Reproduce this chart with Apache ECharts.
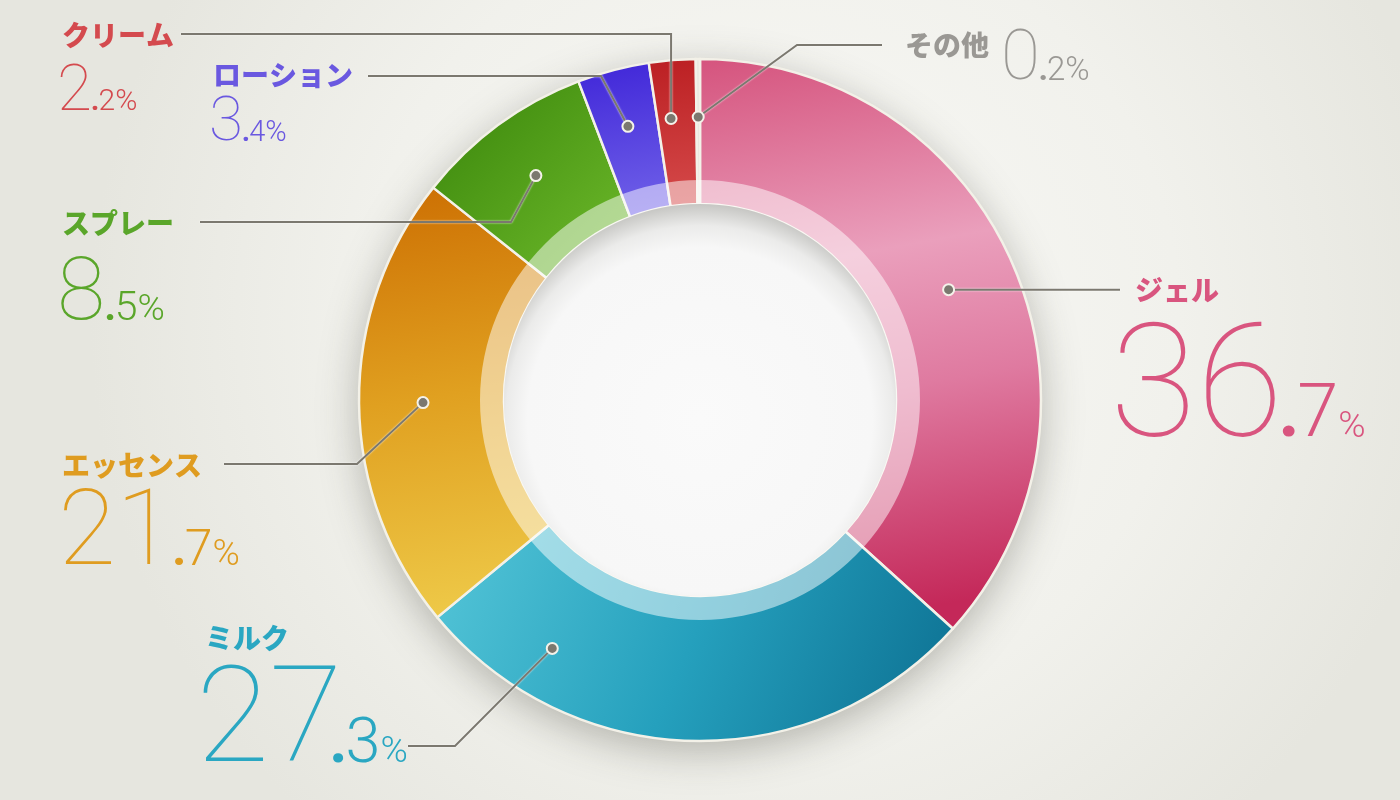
<!DOCTYPE html>
<html>
<head>
<meta charset="utf-8">
<script src="https://cdn.jsdelivr.net/npm/echarts@6/dist/echarts.min.js"></script>
<style>html,body{margin:0;padding:0;overflow:hidden;background:#f2f2ee}#c{width:1400px;height:800px}</style>
</head>
<body>
<div id="c"></div>
<script>
// ---- data ----
const categories = ['ジェル', 'ミルク', 'エッセンス', 'スプレー', 'ローション', 'クリーム', 'その他'];
const values = [36.7, 27.3, 21.7, 8.5, 3.4, 2.2, 0.2];

// ---- styles ----
const nameColors = ['#d9557f', '#2aa7c2', '#df9c20', '#5aa62a', '#6a58e0', '#d44a4e', '#9a9894'];
const sliceGradients = [
  [0, 0, 0.3, 1, ['#d5537d', '#ea9fbc', '#df7aa0', '#c42859'], [0, 0.38, 0.62, 1]],
  [0, 0, 1, 1, ['#55c6d8', '#25a0bd', '#0c6f91'], [0, 0.5, 1]],
  [0, 0, 0.4, 1, ['#cc6e02', '#e0a020', '#eec948'], [0, 0.5, 1]],
  [0, 0, 1, 1, ['#38840a', '#70bc2c'], [0, 1]],
  [0, 0, 0.3, 1, ['#3f25d8', '#6f60e8'], [0, 1]],
  [0, 0, 0.3, 1, ['#bb1f22', '#d54a4a'], [0, 1]],
  [0, 0, 0, 1, ['#ebe9e2', '#e2e0d8'], [0, 1]]
];
const lineColor = '#7b786f';
const numFont = 'Roboto';

// ---- layout (label placement, not data) ----
const CX = 700, CY = 400;
const labelCfg = [
  { x: 1110, indent: 25, nameCy: 290, capC: 381, fi: 158, dotShift: -0.03, r: 272, frac: 0.5, horiz: true, end: [1120] },
  { x: 196, indent: 9, nameCy: 638, capC: 715, fi: 134, dotShift: -0.1, r: 289, frac: 0.8, bend: [455, 746], end: [408, 746] },
  { x: 58, indent: 4, nameCy: 465, capC: 528, fi: 106, dotShift: -0.02, r: 277, frac: 0.5, bend: [357, 464], end: [224, 464] },
  { x: 57, indent: 5, nameCy: 223, capC: 289, fi: 88, dotShift: -0.01, r: 278, frac: 0.5, bend: [511, 222], end: [200, 222] },
  { x: 209, indent: 4, nameCy: 75, capC: 119, fi: 62, dotShift: -0.02, r: 283, frac: 0.5, bend: [601, 76], end: [368, 76] },
  { x: 57, indent: 5, nameCy: 35, capC: 88, fi: 64, dotShift: -0.02, r: 283, frac: 0.35, vert: true, end: [181, 34] },
  { x: 905, inline: true, nameCy: 45, capC: 55, fi: 71, dotShift: -0.02, r: 283, frac: 0.5, bend: [797, 45], end: [882, 45] }
];
const K = 0.235;      // baseline correction factor
const CAPOFF = 0.593; // line bottom below cap centre, in em
const L1 = 36;        // name line height

const total = values.reduce((a, b) => a + b, 0);
function anchorOf(i) {
  let cum = 0;
  for (let j = 0; j < i; j++) cum += values[j];
  const c = labelCfg[i];
  const th = (cum + c.frac * values[i]) / total * 2 * Math.PI;
  return [CX + c.r * Math.sin(th), CY - c.r * Math.cos(th)];
}

function buildLabel(i) {
  const c = labelCfg[i];
  const v = values[i];
  const ip = String(Math.floor(v));
  const dp = v.toFixed(1).split('.')[1];
  const fi = c.fi;
  const fd = Math.round(fi * 0.47);
  const fp = Math.min(fd, 37);
  let top, L2;
  const lineBottomTarget = c.capC + CAPOFF * fi;
  if (c.inline) {
    L2 = 90;
    top = lineBottomTarget - L2;
  } else {
    top = c.nameCy - L1 / 2;
    L2 = lineBottomTarget - top - L1;
  }
  const col = nameColors[i];
  const num = {
    int: { fontFamily: numFont, fontWeight: 100, fontSize: fi, color: col, verticalAlign: 'bottom', lineHeight: L2 },
    dot: { fontFamily: numFont, fontWeight: 700, fontSize: fd, color: col, verticalAlign: 'bottom', lineHeight: L2, padding: [0, 0, K * (fi - fd), c.dotShift * fi] },
    dec: { fontFamily: numFont, fontWeight: 300, fontSize: fd, color: col, verticalAlign: 'bottom', lineHeight: L2, padding: [0, 0, K * (fi - fd), -0.015 * fi] },
    pct: { fontFamily: numFont, fontWeight: 300, fontSize: fp, color: col, verticalAlign: 'bottom', lineHeight: L2, padding: [0, 0, K * (fi - fp), 0] }
  };
  let name;
  if (c.inline) {
    const lineBottom = top + L2;
    name = { fontFamily: 'Noto Sans CJK JP', fontWeight: 900, fontSize: 28, color: col, verticalAlign: 'bottom', lineHeight: L2, padding: [0, 12, lineBottom - 14 - c.nameCy, 0] };
  } else {
    name = { fontFamily: 'Noto Sans CJK JP', fontWeight: 900, fontSize: 28, color: col, lineHeight: L1, padding: [0, 0, 0, c.indent] };
  }
  const sep = c.inline ? '' : '\n';
  return {
    top: top,
    formatter: '{name|' + categories[i] + '}' + sep + '{int|' + ip + '}{dot|.}{dec|' + dp + '}{pct|%}',
    rich: Object.assign({ name: name }, num)
  };
}

const labelInfo = categories.map((_, i) => buildLabel(i));

const pieData = categories.map((name, i) => {
  const g = sliceGradients[i];
  return {
    name: name,
    value: values[i],
    itemStyle: {
      color: new echarts.graphic.LinearGradient(g[0], g[1], g[2], g[3],
        g[4].map((cl, k) => ({ offset: g[5][k], color: cl })))
    }
  };
});

const labelData = categories.map((name, i) => ({
  name: name,
  value: values[i],
  label: { formatter: labelInfo[i].formatter, rich: labelInfo[i].rich }
}));

const anchors = categories.map((_, i) => anchorOf(i));

function linePoints(i) {
  const c = labelCfg[i];
  const a = anchors[i];
  if (c.horiz) return [a, [c.end[0], a[1]]];
  if (c.vert) return [a, [a[0], c.end[1]], c.end];
  return [a, c.bend, c.end];
}

const chart = echarts.init(document.getElementById('c'), null, { renderer: 'canvas' });
chart.setOption({
  animation: false,
  backgroundColor: {
    type: 'radial', x: 0.55, y: 0.4, r: 0.85,
    colorStops: [{ offset: 0, color: '#f9f9f6' }, { offset: 0.6, color: '#f1f1ec' }, { offset: 1, color: '#e6e6df' }]
  },
  series: [
    {
      type: 'pie', z: 1, silent: true, center: [CX, CY], radius: [200, 341],
      label: { show: false }, labelLine: { show: false },
      itemStyle: { color: '#ecebe4', shadowBlur: 40, shadowColor: 'rgba(60,60,50,0.35)', shadowOffsetY: 10 },
      data: [{ value: 1 }]
    },
    {
      type: 'pie', z: 2, silent: true, center: [CX, CY], radius: [196, 341],
      startAngle: 90, clockwise: true, avoidLabelOverlap: false, minAngle: 0,
      itemStyle: { borderColor: '#f3f1e8', borderWidth: 2.5 },
      emphasis: { disabled: true },
      label: { show: false }, labelLine: { show: false },
      data: pieData
    },
    {
      type: 'pie', z: 3, silent: true, center: [CX, CY], radius: [196, 220],
      label: { show: false }, labelLine: { show: false },
      itemStyle: { color: 'rgba(255,255,255,0.5)' },
      data: [{ value: 1 }]
    },
    {
      type: 'pie', z: 4, silent: true, center: [CX, CY], radius: [0, 196],
      label: { show: false }, labelLine: { show: false },
      itemStyle: {
        color: {
          type: 'radial', x: 0.5, y: 0.55, r: 0.55,
          colorStops: [{ offset: 0, color: '#fafafa' }, { offset: 0.8, color: '#f7f7f7' }, { offset: 0.9, color: '#ebebea' }, { offset: 1, color: '#c6c6c3' }]
        }
      },
      data: [{ value: 1 }]
    },
    {
      type: 'pie', z: 10, silent: true, center: [CX, CY], radius: [196, 341],
      startAngle: 90, clockwise: true, avoidLabelOverlap: false, minAngle: 0,
      itemStyle: { color: 'rgba(0,0,0,0)', borderWidth: 0 },
      emphasis: { disabled: true },
      label: { show: true, position: 'outside' },
      labelLine: { show: true, lineStyle: { color: lineColor, width: 2, shadowColor: 'rgba(255,255,255,0.9)', shadowBlur: 2 } },
      labelLayout: function (params) {
        const i = params.dataIndex;
        return {
          x: labelCfg[i].x,
          y: labelInfo[i].top,
          align: 'left',
          verticalAlign: 'top',
          labelLinePoints: linePoints(i)
        };
      },
      data: labelData
    }
  ],
  graphic: anchors.map(a => ({
    type: 'circle', z: 100, silent: true,
    shape: { cx: a[0], cy: a[1], r: 5.5 },
    style: { fill: lineColor, stroke: '#f4f2ea', lineWidth: 2 }
  }))
});
</script>
</body>
</html>
